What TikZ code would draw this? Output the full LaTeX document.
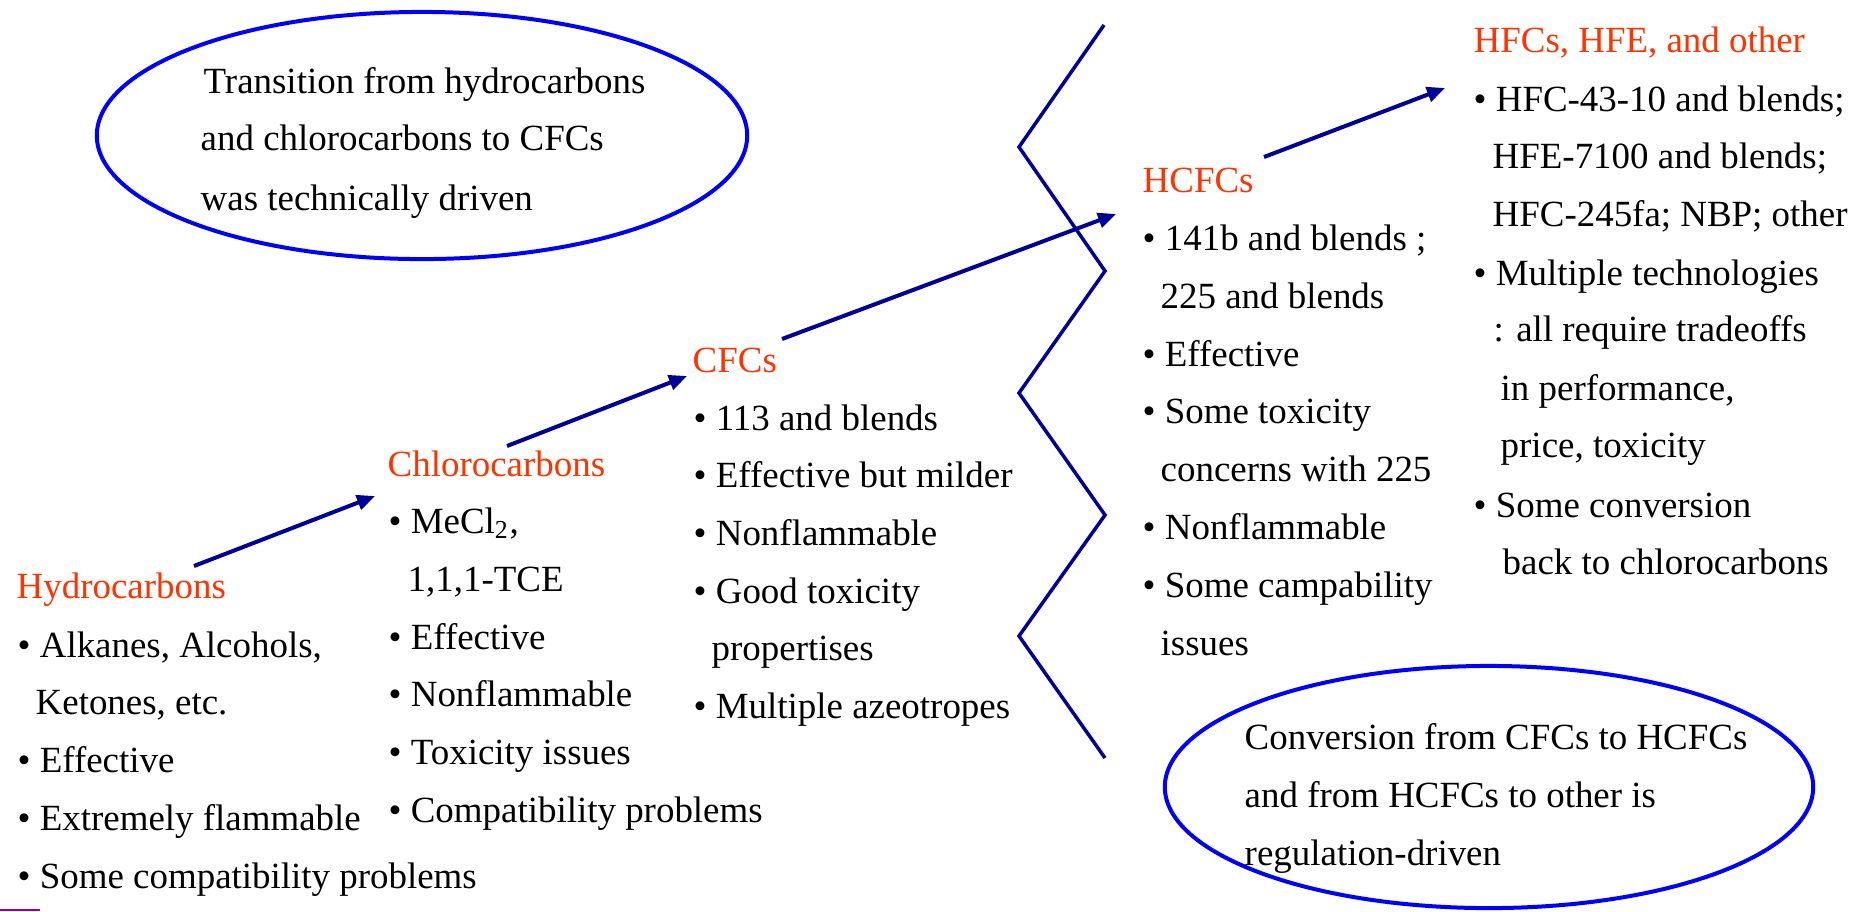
\documentclass[tikz,border=0pt]{standalone}
\usepackage{fontspec}
\setmainfont{Liberation Serif}
\usetikzlibrary{arrows.meta}
\definecolor{headred}{RGB}{255,51,0}
\definecolor{navyline}{RGB}{0,0,153}
\definecolor{ringblue}{RGB}{0,0,255}
\definecolor{markpurple}{RGB}{153,0,153}
% one line of text, placed by its baseline start
\newcommand\txtline[4]{\node[txt] (#1) at (#2,#3) {#4};}
\newcommand\headline[4]{\node[head] (#1) at (#2,#3) {#4};}

\begin{document}
\begin{tikzpicture}[x=0.01cm,y=-0.01cm,
  txt/.style={font=\fontsize{10.5}{12}\selectfont, inner sep=0pt, anchor=base west},
  head/.style={txt, text=headred},
  flow/.style={draw=navyline, line width=0.04cm, -{Triangle[length=0.18cm,width=0.15cm]}},
  zig/.style={draw=navyline, line width=0.035cm, line join=miter},
  ring/.style={draw=ringblue, line width=0.04cm}]
\fill[white] (0,0) rectangle (1867,911);
\useasboundingbox (0,0) rectangle (1867,911);

% ---- ellipses with their notes ----
\draw[ring] (422,135.5) ellipse [x radius=3.25cm, y radius=1.235cm];
\txtline{ta}{203}{93}{Transition from hydrocarbons}
\txtline{tb}{200}{150}{and chlorocarbons to CFCs}
\txtline{tc}{200}{210}{was technically driven}

\draw[ring] (1489,787) ellipse [x radius=3.24cm, y radius=1.21cm];
\txtline{ca}{1244}{749}{Conversion from CFCs to HCFCs}
\txtline{cb}{1244}{807}{and from HCFCs to other is}
\txtline{cc}{1244}{865}{regulation-driven}

% ---- hydrocarbons ----
\headline{hydro}{16}{598}{Hydrocarbons}
\txtline{h1}{17}{657}{• Alkanes, Alcohols,}
\txtline{h1b}{35}{714}{Ketones, etc.}
\txtline{h2}{17}{772}{• Effective}
\txtline{h3}{17}{830}{• Extremely flammable}
\txtline{h4}{17}{888}{• Some compatibility problems}

% ---- chlorocarbons ----
\headline{chloro}{387}{476}{Chlorocarbons}
\txtline{k1}{388}{533}{• MeCl\textsubscript{2},}
\txtline{k1b}{407}{591}{1,1,1-TCE}
\txtline{k2}{388}{649}{• Effective}
\txtline{k3}{388}{706}{• Nonflammable}
\txtline{k4}{388}{764}{• Toxicity issues}
\txtline{k5}{388}{822}{• Compatibility problems}

% ---- CFCs ----
\headline{cfc}{692}{372}{CFCs}
\txtline{f1}{693}{430}{• 113 and blends}
\txtline{f2}{693}{487}{• Effective but milder}
\txtline{f3}{693}{545}{• Nonflammable}
\txtline{f4}{693}{603}{• Good toxicity}
\txtline{f4b}{711}{660}{propertises}
\txtline{f5}{693}{718}{• Multiple azeotropes}

% ---- HCFCs ----
\headline{hcfc}{1142}{192}{HCFCs}
\txtline{c1}{1142}{250}{• 141b and blends ;}
\txtline{c1b}{1160}{308}{225 and blends}
\txtline{c2}{1142}{366}{• Effective}
\txtline{c3}{1142}{423}{• Some toxicity}
\txtline{c3b}{1160}{481}{concerns with 225}
\txtline{c4}{1142}{539}{• Nonflammable}
\txtline{c5}{1142}{597}{• Some campability}
\txtline{c5b}{1160}{655}{issues}

% ---- HFCs, HFE and other ----
\headline{hfc}{1473}{52}{HFCs, HFE, and other}
\txtline{e1}{1473}{111}{• HFC-43-10 and blends;}
\txtline{e1b}{1492}{168}{HFE-7100 and blends;}
\txtline{e1c}{1492}{226}{HFC-245fa; NBP; other}
\txtline{e2}{1473}{285}{• Multiple technologies}
\txtline{e2b}{1493}{341}{: all require tradeoffs}
\txtline{e2c}{1500}{400}{in performance,}
\txtline{e2d}{1500}{457}{price, toxicity}
\txtline{e3}{1473}{517}{• Some conversion}
\txtline{e3b}{1502}{574}{back to chlorocarbons}

% ---- transitions ----
\coordinate (s1) at (194,566);  \coordinate (t1) at (375,496);
\coordinate (s2) at (507,446);  \coordinate (t2) at (687,376);
\coordinate (s3) at (782,339);  \coordinate (t3) at (1116,214);
\coordinate (s4) at (1264,157); \coordinate (t4) at (1445,88);
\draw[flow] (s1) -- (t1);
\draw[flow] (s2) -- (t2);
\draw[flow] (s3) -- (t3);
\draw[flow] (s4) -- (t4);

% ---- break line between the technical and the regulatory phase ----
\draw[zig] (1104,25) -- (1019,147) -- (1105,271) -- (1019,393)
  -- (1105,515) -- (1019,636) -- (1105,758);

% small mark in the lower left corner
\draw[markpurple, line width=0.02cm] (0,910) -- (40,910);
\end{tikzpicture}
\end{document}
